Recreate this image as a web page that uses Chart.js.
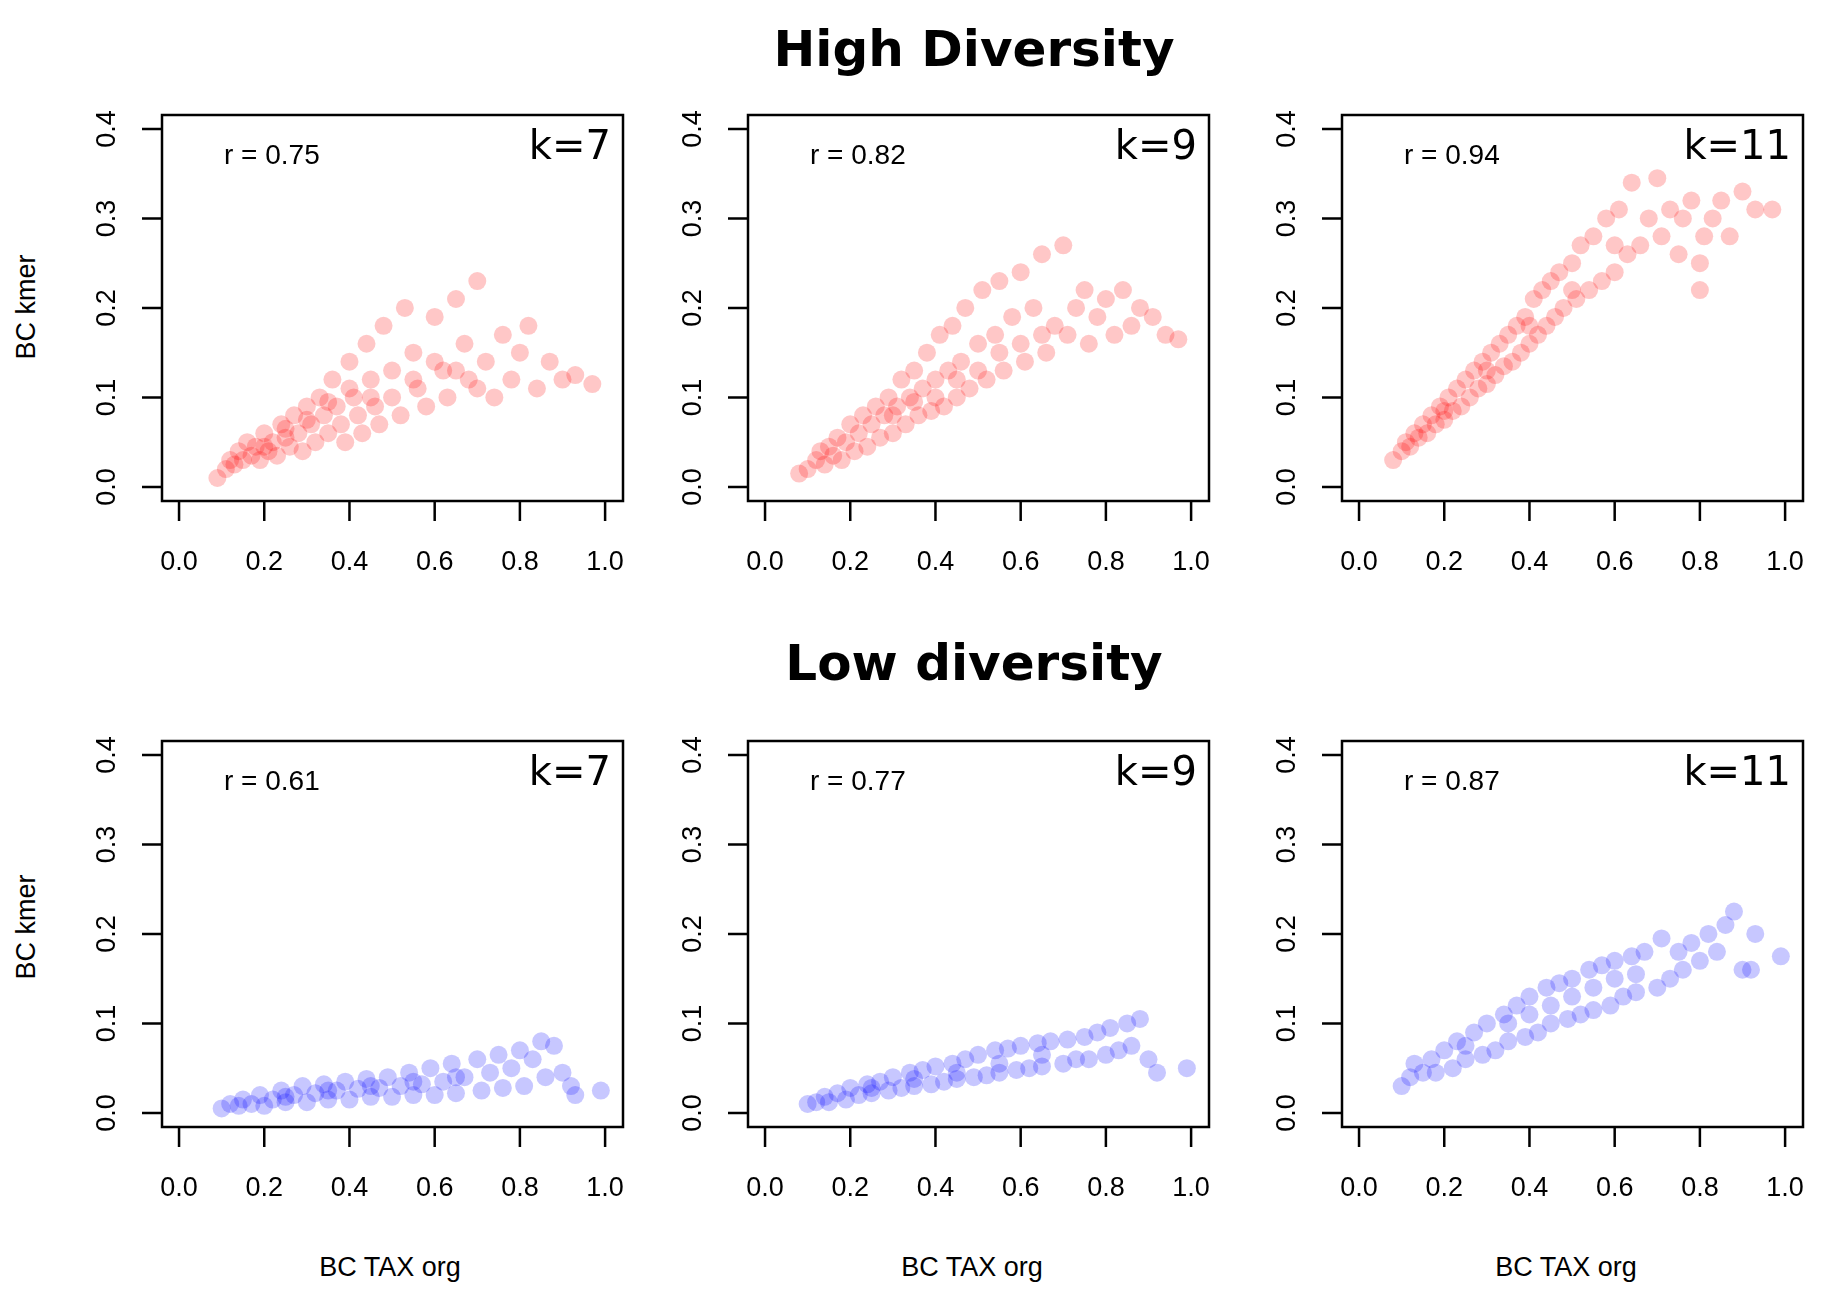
<!DOCTYPE html>
<html>
<head>
<meta charset="utf-8">
<script src="https://cdn.jsdelivr.net/npm/chart.js@4"></script>
<style>
  body { margin: 0; width: 1828px; height: 1299px; background: #fff; position: relative; overflow: hidden; font-family: "Liberation Sans", Arial, sans-serif; }
  canvas { position: absolute; }
  .title { position: absolute; width: 1828px; text-align: center; font: bold 50px "DejaVu Sans", sans-serif; transform: translateY(-50%); left: 60px; }
  .ylab { position: absolute; font-size: 27px; transform: translate(-50%, -50%) rotate(-90deg); white-space: nowrap; }
  .xlab { position: absolute; font-size: 27px; transform: translate(-50%, -50%); white-space: nowrap; }
</style>
</head>
<body>
<div class="title" style="top:49px">High Diversity</div>
<div class="title" style="top:663px">Low diversity</div>
<div class="ylab" style="left:26px;top:307px">BC kmer</div>
<div class="ylab" style="left:26px;top:927px">BC kmer</div>
<div class="xlab" style="left:390px;top:1267px">BC TAX org</div>
<div class="xlab" style="left:972px;top:1267px">BC TAX org</div>
<div class="xlab" style="left:1566px;top:1267px">BC TAX org</div>
<script>
// axis ticks
const X_TICKS = [0, 0.2, 0.4, 0.6, 0.8, 1.0];
const Y_TICKS = [0, 0.1, 0.2, 0.3, 0.4];

// panel labels
const K_LABELS = ['k=7', 'k=9', 'k=11', 'k=7', 'k=9', 'k=11'];
const R_LABELS = ['r = 0.75', 'r = 0.82', 'r = 0.94', 'r = 0.61', 'r = 0.77', 'r = 0.87'];

// point clouds, [x, y]
const HD7 = [[0.09,0.01],[0.11,0.02],[0.12,0.03],[0.13,0.025],[0.14,0.04],[0.15,0.03],[0.16,0.05],[0.17,0.035],[0.18,0.045],[0.19,0.03],[0.2,0.06],[0.21,0.04],[0.22,0.05],[0.23,0.035],[0.24,0.07],[0.25,0.055],[0.26,0.045],[0.27,0.08],[0.28,0.06],[0.29,0.04],[0.3,0.09],[0.31,0.07],[0.32,0.05],[0.33,0.1],[0.34,0.08],[0.35,0.06],[0.36,0.12],[0.37,0.09],[0.38,0.07],[0.39,0.05],[0.4,0.14],[0.41,0.1],[0.42,0.08],[0.43,0.06],[0.44,0.16],[0.45,0.12],[0.46,0.09],[0.47,0.07],[0.48,0.18],[0.5,0.13],[0.5,0.1],[0.52,0.08],[0.53,0.2],[0.55,0.15],[0.56,0.11],[0.58,0.09],[0.6,0.19],[0.62,0.13],[0.63,0.1],[0.65,0.21],[0.67,0.16],[0.68,0.12],[0.7,0.23],[0.72,0.14],[0.74,0.1],[0.76,0.17],[0.78,0.12],[0.8,0.15],[0.82,0.18],[0.84,0.11],[0.87,0.14],[0.9,0.12],[0.93,0.125],[0.97,0.115],[0.2,0.045],[0.25,0.065],[0.3,0.075],[0.35,0.095],[0.4,0.11],[0.45,0.1],[0.55,0.12],[0.6,0.14],[0.65,0.13],[0.7,0.11]];
const HD9 = [[0.08,0.015],[0.1,0.02],[0.12,0.03],[0.13,0.04],[0.14,0.025],[0.15,0.045],[0.16,0.035],[0.17,0.055],[0.18,0.03],[0.19,0.05],[0.2,0.07],[0.21,0.04],[0.22,0.06],[0.23,0.08],[0.24,0.045],[0.25,0.07],[0.26,0.09],[0.27,0.055],[0.28,0.08],[0.29,0.1],[0.3,0.06],[0.31,0.09],[0.32,0.12],[0.33,0.07],[0.34,0.1],[0.35,0.13],[0.36,0.08],[0.37,0.11],[0.38,0.15],[0.39,0.085],[0.4,0.12],[0.41,0.17],[0.42,0.09],[0.43,0.13],[0.44,0.18],[0.45,0.1],[0.46,0.14],[0.47,0.2],[0.48,0.11],[0.5,0.16],[0.51,0.22],[0.52,0.12],[0.54,0.17],[0.55,0.23],[0.56,0.13],[0.58,0.19],[0.6,0.24],[0.61,0.14],[0.63,0.2],[0.65,0.26],[0.66,0.15],[0.68,0.18],[0.7,0.27],[0.71,0.17],[0.73,0.2],[0.75,0.22],[0.76,0.16],[0.78,0.19],[0.8,0.21],[0.82,0.17],[0.84,0.22],[0.86,0.18],[0.88,0.2],[0.91,0.19],[0.94,0.17],[0.97,0.165],[0.4,0.1],[0.45,0.12],[0.5,0.13],[0.55,0.15],[0.6,0.16],[0.65,0.17],[0.3,0.08],[0.35,0.095]];
const HD11 = [[0.08,0.03],[0.1,0.04],[0.11,0.05],[0.12,0.045],[0.13,0.06],[0.14,0.055],[0.15,0.07],[0.16,0.06],[0.17,0.08],[0.18,0.07],[0.19,0.09],[0.2,0.075],[0.21,0.1],[0.22,0.085],[0.23,0.11],[0.24,0.09],[0.25,0.12],[0.26,0.1],[0.27,0.13],[0.28,0.11],[0.29,0.14],[0.3,0.115],[0.31,0.15],[0.32,0.125],[0.33,0.16],[0.34,0.135],[0.35,0.17],[0.36,0.14],[0.37,0.18],[0.38,0.15],[0.39,0.19],[0.4,0.16],[0.41,0.21],[0.42,0.17],[0.43,0.22],[0.44,0.18],[0.45,0.23],[0.46,0.19],[0.47,0.24],[0.48,0.2],[0.5,0.25],[0.51,0.21],[0.52,0.27],[0.54,0.22],[0.55,0.28],[0.57,0.23],[0.58,0.3],[0.6,0.24],[0.61,0.31],[0.63,0.26],[0.64,0.34],[0.66,0.27],[0.68,0.3],[0.7,0.345],[0.71,0.28],[0.73,0.31],[0.75,0.26],[0.76,0.3],[0.78,0.32],[0.8,0.22],[0.81,0.28],[0.83,0.3],[0.85,0.32],[0.87,0.28],[0.9,0.33],[0.93,0.31],[0.97,0.31],[0.8,0.25],[0.6,0.27],[0.5,0.22],[0.4,0.18],[0.3,0.13],[0.2,0.085]];
const LD7 = [[0.1,0.005],[0.12,0.01],[0.14,0.008],[0.15,0.015],[0.17,0.01],[0.19,0.02],[0.2,0.008],[0.22,0.015],[0.24,0.025],[0.25,0.012],[0.27,0.02],[0.29,0.03],[0.3,0.012],[0.32,0.022],[0.34,0.032],[0.35,0.015],[0.37,0.025],[0.39,0.035],[0.4,0.015],[0.42,0.027],[0.44,0.038],[0.45,0.018],[0.47,0.028],[0.49,0.04],[0.5,0.018],[0.52,0.03],[0.54,0.045],[0.55,0.02],[0.57,0.032],[0.59,0.05],[0.6,0.02],[0.62,0.035],[0.64,0.055],[0.65,0.022],[0.67,0.04],[0.7,0.06],[0.71,0.025],[0.73,0.045],[0.75,0.065],[0.76,0.028],[0.78,0.05],[0.8,0.07],[0.81,0.03],[0.83,0.06],[0.85,0.08],[0.86,0.04],[0.88,0.075],[0.9,0.045],[0.92,0.03],[0.93,0.02],[0.99,0.025],[0.45,0.03],[0.55,0.035],[0.65,0.04],[0.35,0.025],[0.25,0.018]];
const LD9 = [[0.1,0.01],[0.12,0.012],[0.14,0.018],[0.15,0.012],[0.17,0.022],[0.19,0.015],[0.2,0.028],[0.22,0.02],[0.24,0.032],[0.25,0.022],[0.27,0.035],[0.29,0.025],[0.3,0.04],[0.32,0.028],[0.34,0.045],[0.35,0.03],[0.37,0.048],[0.39,0.032],[0.4,0.052],[0.42,0.035],[0.44,0.055],[0.45,0.038],[0.47,0.06],[0.49,0.04],[0.5,0.065],[0.52,0.042],[0.54,0.07],[0.55,0.045],[0.57,0.072],[0.59,0.048],[0.6,0.075],[0.62,0.05],[0.64,0.078],[0.65,0.052],[0.67,0.08],[0.7,0.055],[0.71,0.082],[0.73,0.06],[0.75,0.085],[0.76,0.06],[0.78,0.09],[0.8,0.065],[0.81,0.095],[0.83,0.07],[0.85,0.1],[0.86,0.075],[0.88,0.105],[0.9,0.06],[0.92,0.045],[0.99,0.05],[0.45,0.045],[0.55,0.055],[0.65,0.065],[0.35,0.038],[0.25,0.028]];
const LD11 = [[0.1,0.03],[0.12,0.04],[0.13,0.055],[0.15,0.045],[0.17,0.06],[0.18,0.045],[0.2,0.07],[0.22,0.05],[0.23,0.08],[0.25,0.06],[0.27,0.09],[0.29,0.065],[0.3,0.1],[0.32,0.07],[0.34,0.11],[0.35,0.08],[0.37,0.12],[0.39,0.085],[0.4,0.13],[0.42,0.09],[0.44,0.14],[0.45,0.1],[0.47,0.145],[0.49,0.105],[0.5,0.15],[0.52,0.11],[0.54,0.16],[0.55,0.115],[0.57,0.165],[0.59,0.12],[0.6,0.17],[0.62,0.13],[0.64,0.175],[0.65,0.135],[0.67,0.18],[0.7,0.14],[0.71,0.195],[0.73,0.15],[0.75,0.18],[0.76,0.16],[0.78,0.19],[0.8,0.17],[0.82,0.2],[0.84,0.18],[0.86,0.21],[0.88,0.225],[0.9,0.16],[0.92,0.16],[0.93,0.2],[0.99,0.175],[0.35,0.1],[0.45,0.12],[0.55,0.14],[0.65,0.155],[0.25,0.075],[0.4,0.11],[0.5,0.13],[0.6,0.15]];

const SERIES = [HD7, HD9, HD11, LD7, LD9, LD11];
const COL_LEFT = [162, 748, 1342];
const ROW_TOP = [115, 741];
const BOX_W = 461, BOX_H = 386;
const PAD = { left: 100, right: 12, top: 12, bottom: 80 };

const rAxes = {
  id: 'rAxes',
  afterDraw(chart, args, opts) {
    const { ctx, chartArea: a, scales: { x, y } } = chart;
    ctx.save();
    ctx.strokeStyle = '#000';
    ctx.lineWidth = 2.5;
    ctx.strokeRect(a.left, a.top, a.right - a.left, a.bottom - a.top);
    ctx.fillStyle = '#000';
    ctx.font = '27px "Liberation Sans", Arial, sans-serif';
    ctx.textAlign = 'center';
    ctx.textBaseline = 'middle';
    ctx.beginPath();
    X_TICKS.forEach(v => {
      const px = x.getPixelForValue(v);
      ctx.moveTo(px, a.bottom); ctx.lineTo(px, a.bottom + 20);
      ctx.fillText(v.toFixed(1), px, a.bottom + 62);
    });
    Y_TICKS.forEach(v => {
      const py = y.getPixelForValue(v);
      ctx.moveTo(a.left, py); ctx.lineTo(a.left - 20, py);
      ctx.save();
      ctx.translate(a.left - 54, py);
      ctx.rotate(-Math.PI / 2);
      ctx.fillText(v.toFixed(1), 0, 0);
      ctx.restore();
    });
    ctx.stroke();
    ctx.textAlign = 'left';
    ctx.font = '28px "Liberation Sans", Arial, sans-serif';
    ctx.fillText(opts.r, a.left + 62, a.top + 41);
    ctx.textAlign = 'right';
    ctx.font = '40px "DejaVu Sans", sans-serif';
    ctx.fillText(opts.k, a.right - 12, a.top + 34);
    ctx.restore();
  }
};

SERIES.forEach((pts, i) => {
  const col = i % 3, row = Math.floor(i / 3);
  const cv = document.createElement('canvas');
  const w = BOX_W + PAD.left + PAD.right, h = BOX_H + PAD.top + PAD.bottom;
  cv.width = w; cv.height = h;
  cv.style.left = (COL_LEFT[col] - PAD.left) + 'px';
  cv.style.top = (ROW_TOP[row] - PAD.top) + 'px';
  cv.style.width = w + 'px';
  cv.style.height = h + 'px';
  document.body.appendChild(cv);
  const color = row === 0 ? 'rgba(255,0,0,0.22)' : 'rgba(0,0,255,0.22)';
  new Chart(cv, {
    type: 'scatter',
    data: { datasets: [{ data: pts.map(p => ({ x: p[0], y: p[1] })), backgroundColor: color, borderWidth: 0, pointRadius: 9 }] },
    options: {
      responsive: false,
      animation: false,
      devicePixelRatio: 1,
      layout: { padding: PAD },
      plugins: { legend: { display: false }, tooltip: { enabled: false }, rAxes: { r: R_LABELS[i], k: K_LABELS[i] } },
      scales: {
        x: { type: 'linear', display: false, min: -0.04, max: 1.042 },
        y: { type: 'linear', display: false, min: -0.0157, max: 0.4156 }
      }
    },
    plugins: [rAxes]
  });
});
</script>
</body>
</html>
